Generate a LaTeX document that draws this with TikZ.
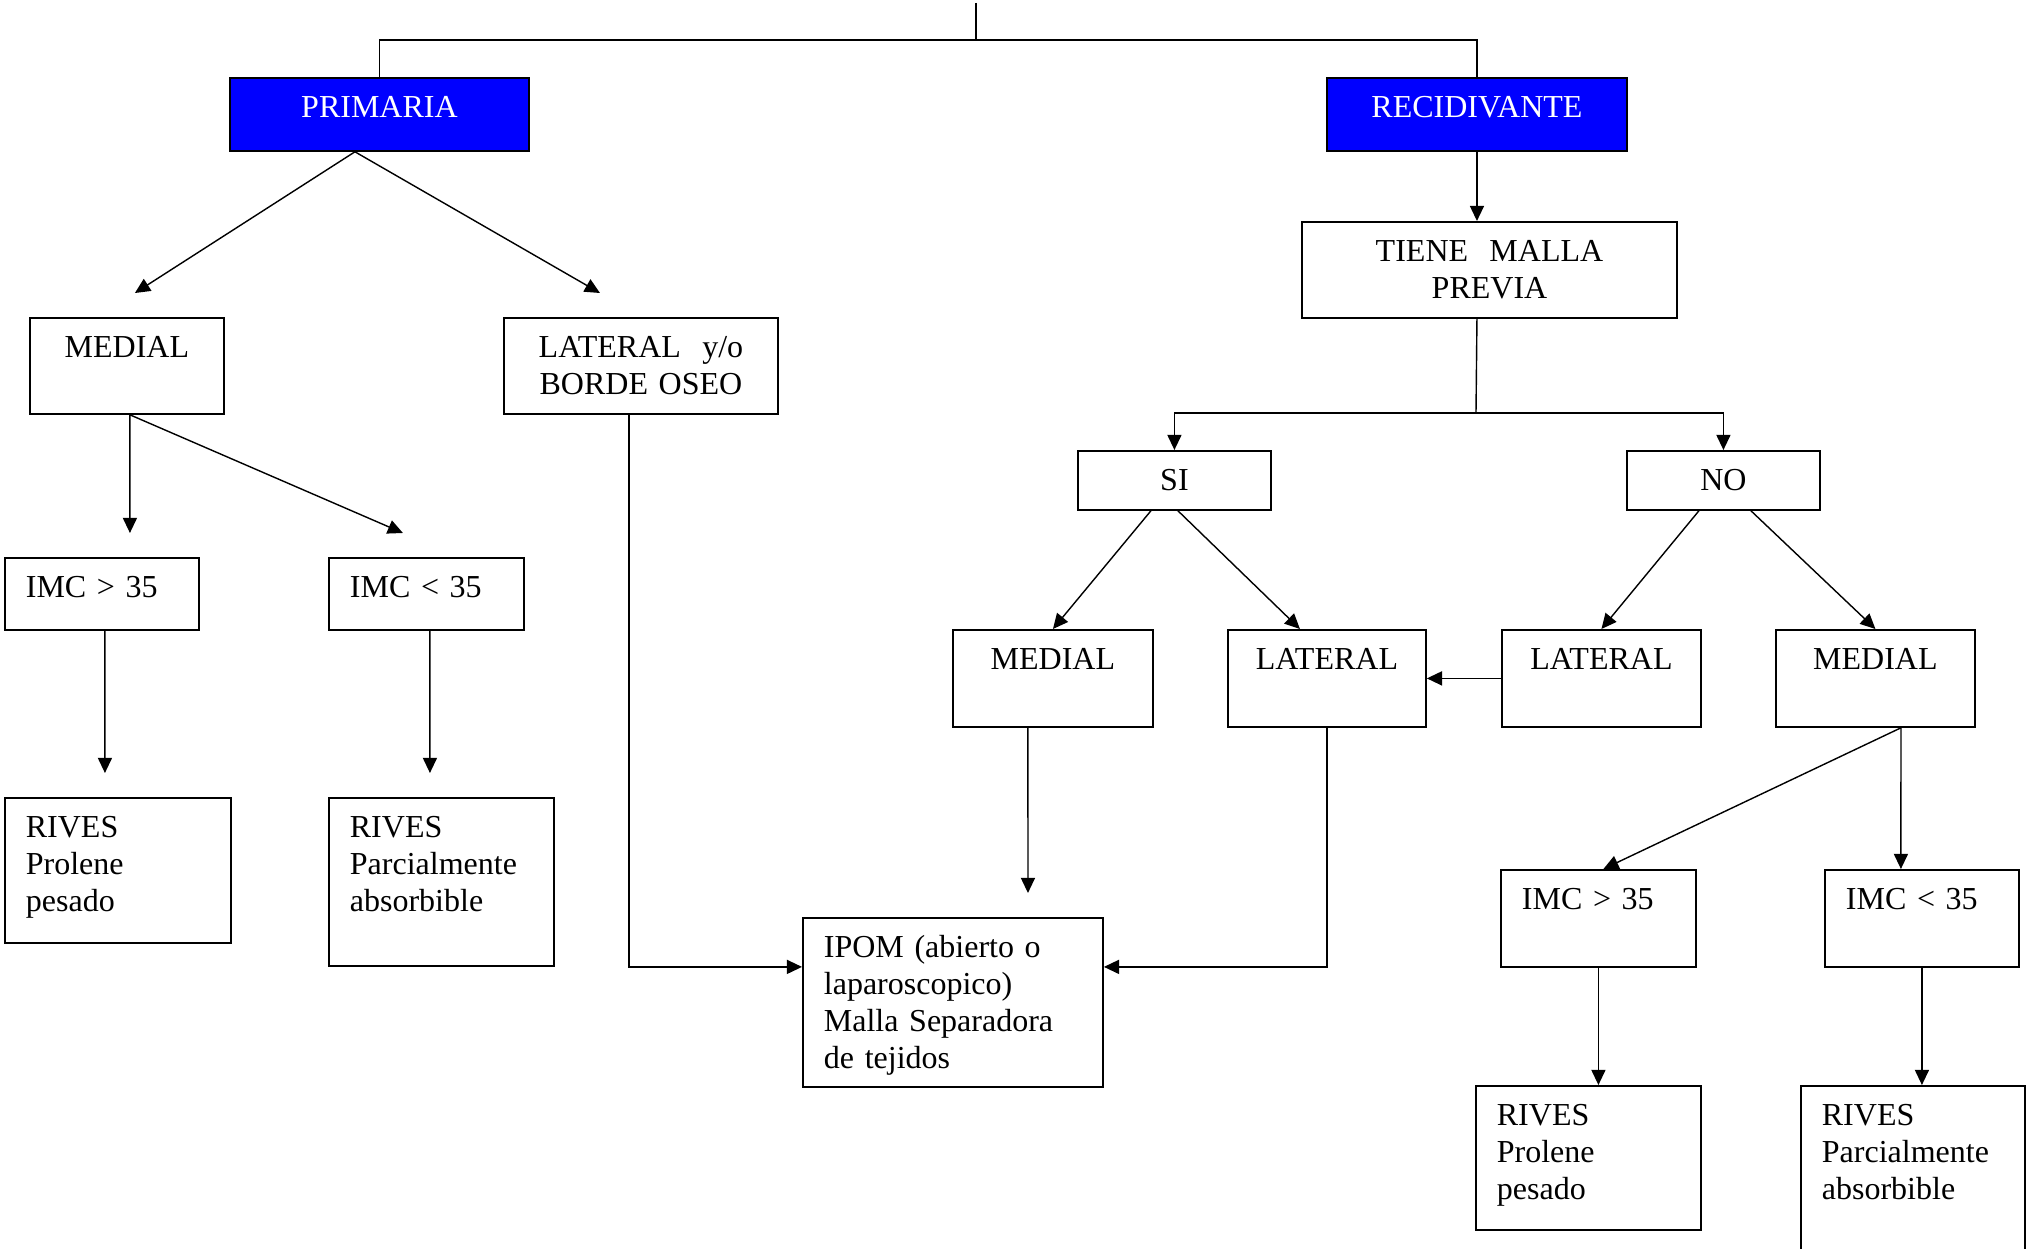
\documentclass[tikz,border=0pt]{standalone}
\usepackage{fontspec}
\setmainfont{Liberation Serif}
\usetikzlibrary{arrows.meta}

\tikzset{
  caja/.style={draw,line width=0.5pt,anchor=north west,inner ysep=0pt,text height=0.40cm},
  centro/.style={caja,inner xsep=0pt,align=center},
  izq/.style={caja,inner xsep=0.21cm,align=left},
  azul/.style={centro,fill=blue,text=white},
  flecha/.style={-{Triangle[length=4.3pt,width=4pt]},line width=0.4pt}
}

\begin{document}
\begin{tikzpicture}[x=0.01cm,y=-0.01cm,line width=0.4pt,font=\fontsize{9.1}{10.5}\selectfont]
	\useasboundingbox (0,0) rectangle (2038,1249);

	\node[azul,text width=2.99cm,text depth=0.33cm] (pri) at (229,77) {PRIMARIA};
	\node[azul,text width=3.00cm,text depth=0.33cm] (rec) at (1326,77) {RECIDIVANTE};

	\node[centro,text width=1.94cm,text depth=0.56cm] (med1) at (29,317) {MEDIAL};
	\node[centro,text width=2.74cm,text depth=0.56cm] (lat1) at (503,317) {LATERAL\ \ y/o\\BORDE OSEO};
	\node[izq,text width=1.52cm,text depth=0.32cm] (imc1) at (4,557) {IMC > 35};
	\node[izq,text width=1.53cm,text depth=0.32cm] (imc2) at (328,557) {IMC < 35};
	\node[izq,text width=1.84cm,text depth=1.05cm] (riv1) at (4,797) {RIVES\\Prolene\\pesado};
	\node[izq,text width=1.83cm,text depth=1.28cm] (riv2) at (328,797) {RIVES\\Parcialmente\\absorbible};
	\node[izq,text width=2.58cm,text depth=1.29cm] (ipom) at (802,917) {IPOM (abierto o\\laparoscopico)\\Malla Separadora\\de tejidos};

	\node[centro,text width=3.75cm,text depth=0.56cm] (tmp) at (1301,221) {TIENE\ \ MALLA\\PREVIA};
	\node[centro,text width=1.93cm,text depth=0.19cm] (si) at (1077,450) {SI};
	\node[centro,text width=1.93cm,text depth=0.19cm] (no) at (1626,450) {NO};
	\node[centro,text width=2.00cm,text depth=0.57cm] (med2) at (952,629) {MEDIAL};
	\node[centro,text width=1.98cm,text depth=0.57cm] (lat2) at (1227,629) {LATERAL};
	\node[centro,text width=1.99cm,text depth=0.57cm] (lat3) at (1501,629) {LATERAL};
	\node[centro,text width=1.99cm,text depth=0.57cm] (med3) at (1775,629) {MEDIAL};
	\node[izq,text width=1.53cm,text depth=0.57cm] (imc3) at (1500,869) {IMC > 35};
	\node[izq,text width=1.52cm,text depth=0.57cm] (imc4) at (1824,869) {IMC < 35};
	\node[izq,text width=1.83cm,text depth=1.04cm] (riv3) at (1475,1085) {RIVES\\Prolene\\pesado};
	\node[izq,text width=1.82cm,text depth=1.60cm] (riv4) at (1800,1085) {RIVES\\Parcialmente\\absorbible};

	\coordinate (raiz) at (976,3);
	\coordinate (cruce) at (976,40);
	\coordinate (rama) at (1476,413);

	\draw (raiz) -- (cruce);
	\draw (pri.north) |- (cruce) -| (rec.north);

	\draw[flecha] ([xshift=-0.245cm]pri.south) -- ([shift={(8,-24)}]med1.north);
	\draw[flecha] ([xshift=-0.245cm]pri.south) -- ([shift={(-41,-24)}]lat1.north);
	\draw[flecha] ([xshift=0.03cm]med1.south) -- ([shift={(28,-24)}]imc1.north);
	\draw[flecha] ([xshift=0.03cm]med1.south) -- ([shift={(-23.5,-24)}]imc2.north);
	\draw[flecha] ([xshift=0.03cm]imc1.south) -- ([shift={(-13,-24)}]riv1.north);
	\draw[flecha] ([xshift=0.035cm]imc2.south) -- ([shift={(-11.5,-24)}]riv2.north);
	\draw[flecha] ([xshift=-0.12cm]lat1.south) |- ([yshift=0.355cm]ipom.west);

	\draw[flecha] (rec.south) -- (rec.south |- tmp.north);
	\draw (rec.south |- tmp.south) -- (rama);
	\draw[flecha] (rama) -| (si.north);
	\draw[flecha] (rama) -| (no.north);
	\draw[flecha] ([xshift=-0.235cm]si.south) -- (med2.north);
	\draw[flecha] ([xshift=0.035cm]si.south) -- ([xshift=-0.27cm]lat2.north);
	\draw[flecha] ([xshift=-0.245cm]no.south) -- (lat3.north);
	\draw[flecha] ([xshift=0.275cm]no.south) -- (med3.north);
	\draw[flecha] (lat3) -- (lat2);
	\draw[flecha] ([xshift=-0.25cm]med2.south) -- ([shift={(75,-24)}]ipom.north);
	\draw[flecha] (lat2.south) |- ([yshift=0.355cm]ipom.east);
	\draw[flecha] ([xshift=0.255cm]med3.south) -- ([xshift=0.05cm]imc3.north);
	\draw[flecha] ([xshift=0.255cm]med3.south) -- ([xshift=-0.21cm]imc4.north);
	\draw[flecha] (imc3.south) -- (imc3.south |- riv3.north);
	\draw[flecha] (imc4.south) -- (imc4.south |- riv4.north);
\end{tikzpicture}
\end{document}
